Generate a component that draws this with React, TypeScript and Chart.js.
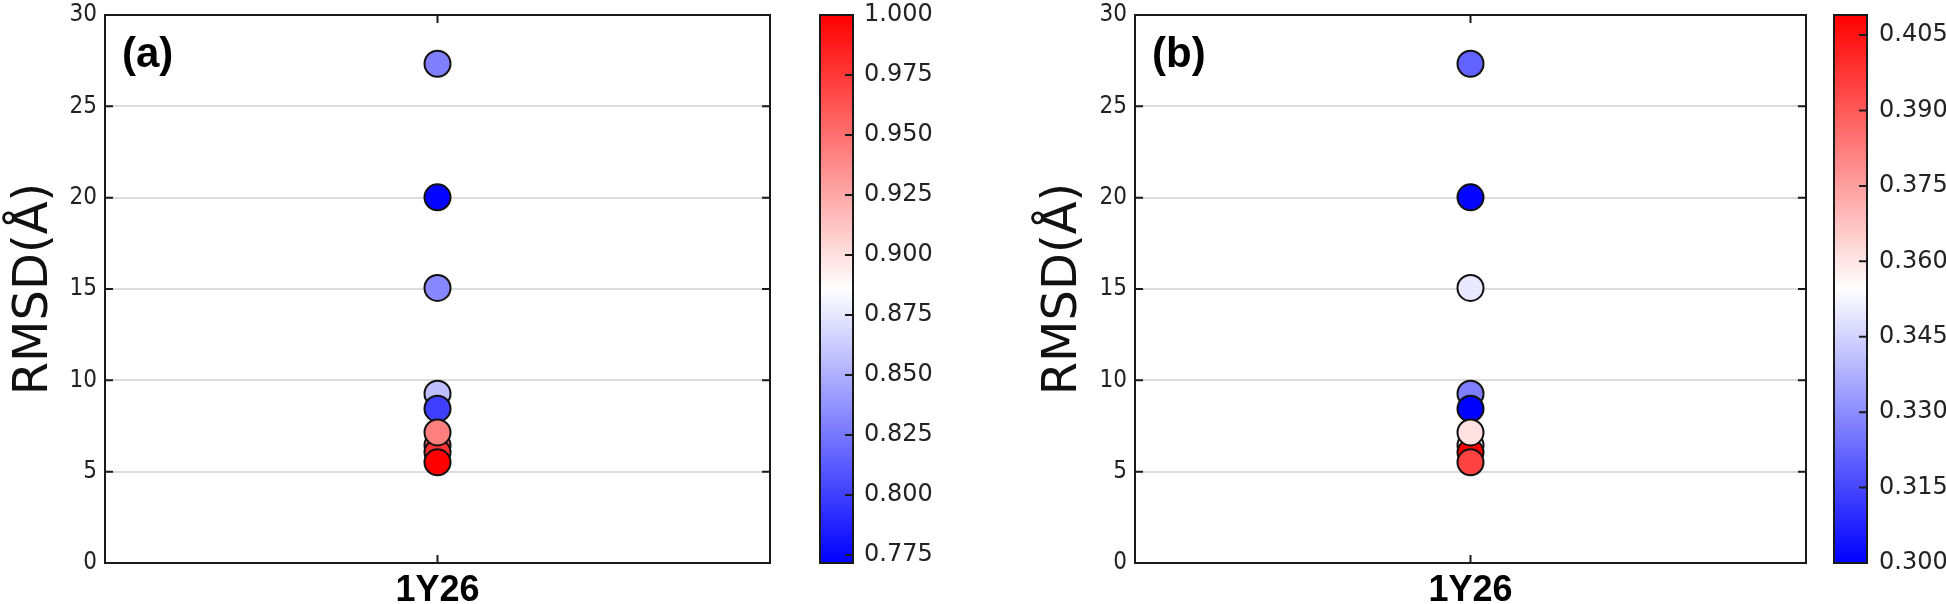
import React, { useEffect, useRef } from 'react';
import { Chart, registerables } from 'chart.js';

Chart.register(...registerables);

// ---------- data ----------
const CATEGORIES = ['1Y26'];
const Y_TICKS = [0, 5, 10, 15, 20, 25, 30];

// panel (a)
const RMSD_A = [27.33, 20.02, 15.06, 9.27, 8.45, 6.44, 6.05, 7.15, 5.51];
const SCORE_A = [0.829, 0.774, 0.832, 0.857, 0.8, 0.955, 0.978, 0.943, 1.0];
const CBAR_A_RANGE = [0.7717, 1.0];
const CBAR_A_TICKS = [0.775, 0.8, 0.825, 0.85, 0.875, 0.9, 0.925, 0.95, 0.975, 1.0];
const CBAR_A_LABELS = ['0.775', '0.800', '0.825', '0.850', '0.875', '0.900', '0.925', '0.950', '0.975', '1.000'];

// panel (b)
const RMSD_B = [27.33, 20.02, 15.06, 9.27, 8.45, 6.44, 6.05, 7.15, 5.51];
const SCORE_B = [0.321, 0.301, 0.3496, 0.327, 0.3, 0.355, 0.409, 0.361, 0.395];
const CBAR_B_RANGE = [0.3, 0.409];
const CBAR_B_TICKS = [0.3, 0.315, 0.33, 0.345, 0.36, 0.375, 0.39, 0.405];
const CBAR_B_LABELS = ['0.300', '0.315', '0.330', '0.345', '0.360', '0.375', '0.390', '0.405'];

// ---------- layout ----------
const CANVAS_H = 604;
const TOP_PAD = 13;
const X_AXIS_H = 41;

type Geo = {
  canvasLeft: number;
  canvasW: number;
  plotLeft: number;
  plotRight: number;
  cbLeft: number;
  cbRight: number;
  labelLeft: number;
  titleX: number;
};

const GEO_A: Geo = {
  canvasLeft: 0,
  canvasW: 973,
  plotLeft: 105,
  plotRight: 770,
  cbLeft: 820,
  cbRight: 853,
  labelLeft: 864,
  titleX: 35,
};

const GEO_B: Geo = {
  canvasLeft: 990,
  canvasW: 956,
  plotLeft: 1135,
  plotRight: 1806,
  cbLeft: 1834,
  cbRight: 1867,
  labelLeft: 1879,
  titleX: 1064,
};

function bwr(t: number): string {
  const u = Math.max(0, Math.min(1, t));
  if (u < 0.5) {
    const v = Math.round(255 * 2 * u);
    return `rgb(${v},${v},255)`;
  }
  const v = Math.round(255 * (2 - 2 * u));
  return `rgb(255,${v},${v})`;
}

type PanelProps = {
  geo: Geo;
  tag: string;
  rmsd: number[];
  score: number[];
  cRange: number[];
  cTicks: number[];
  cLabels: string[];
};

const TITLE_SIZE = 48;
const Y_TICK_FONT = { family: '"DejaVu Sans Condensed", "DejaVu Sans", sans-serif', size: 24, lineHeight: 1 };

function Panel({ geo, tag, rmsd, score, cRange, cTicks, cLabels }: PanelProps) {
  const ref = useRef<HTMLCanvasElement | null>(null);

  useEffect(() => {
    const canvas = ref.current;
    if (!canvas) return;
    const [cmin, cmax] = cRange;
    const colorOf = (v: number) => bwr((v - cmin) / (cmax - cmin));
    const yAxisW = geo.plotLeft - geo.canvasLeft;
    const rightW = geo.canvasLeft + geo.canvasW - geo.plotRight;
    const cbGap = geo.cbLeft - geo.plotRight;
    const cbW = geo.cbRight - geo.cbLeft;
    const labelPad = geo.labelLeft - geo.plotRight;
    const titlePadTop = geo.titleX - geo.canvasLeft - TITLE_SIZE / 2;

    const decor = {
      id: 'decor',
      afterDraw(chart: any) {
        const { ctx, chartArea: a, scales } = chart;
        const xs = scales.x;
        const ys = scales.y;
        const cs = scales.c;
        ctx.save();
        ctx.strokeStyle = '#1a1a1a';
        ctx.lineWidth = 2;
        ctx.beginPath();
        Y_TICKS.forEach((v) => {
          const py = ys.getPixelForValue(v);
          ctx.moveTo(a.left, py);
          ctx.lineTo(a.left + 8, py);
          ctx.moveTo(a.right, py);
          ctx.lineTo(a.right - 8, py);
        });
        CATEGORIES.forEach((_c, i) => {
          const px = xs.getPixelForValue(i);
          ctx.moveTo(px, a.top);
          ctx.lineTo(px, a.top + 8);
          ctx.moveTo(px, a.bottom);
          ctx.lineTo(px, a.bottom - 8);
        });
        ctx.stroke();
        ctx.strokeRect(a.left, a.top, a.right - a.left, a.bottom - a.top);

        // colorbar
        const cx0 = cs.left + cbGap;
        const top = cs.getPixelForValue(cmax);
        const bot = cs.getPixelForValue(cmin);
        const g = ctx.createLinearGradient(0, bot, 0, top);
        g.addColorStop(0, 'rgb(0,0,255)');
        g.addColorStop(0.5, 'rgb(255,255,255)');
        g.addColorStop(1, 'rgb(255,0,0)');
        ctx.fillStyle = g;
        ctx.fillRect(cx0, top, cbW, bot - top);
        ctx.beginPath();
        cTicks.forEach((v) => {
          const py = cs.getPixelForValue(v);
          ctx.moveTo(cx0 + cbW, py);
          ctx.lineTo(cx0 + cbW - 8, py);
        });
        ctx.stroke();
        ctx.strokeRect(cx0, top, cbW, bot - top);

        // panel tag
        ctx.fillStyle = '#000';
        ctx.font = 'bold 42px "Liberation Sans", Arial, sans-serif';
        ctx.textBaseline = 'middle';
        ctx.textAlign = 'left';
        ctx.fillText(tag, a.left + 17, a.top + 40);
        ctx.restore();
      },
    };

    const chart = new Chart(canvas, {
      type: 'scatter',
      data: {
        labels: CATEGORIES,
        datasets: [
          {
            data: rmsd.map((v) => ({ x: CATEGORIES[0], y: v })) as any,
            backgroundColor: score.map(colorOf),
            borderColor: '#111',
            borderWidth: 2,
            pointRadius: 13,
            pointHoverRadius: 13,
          },
        ],
      },
      options: {
        responsive: false,
        animation: false,
        events: [],
        layout: { padding: { top: TOP_PAD, left: 0, right: 0, bottom: 0 } },
        plugins: { legend: { display: false }, tooltip: { enabled: false } },
        scales: {
          x: {
            type: 'category',
            labels: CATEGORIES,
            offset: true,
            grid: { display: false, drawTicks: false },
            border: { display: false },
            ticks: {
              padding: 6,
              color: '#000',
              font: { family: '"Liberation Sans", Arial, sans-serif', size: 36, weight: 'bold' },
            },
            afterFit: (s: any) => {
              s.height = X_AXIS_H;
            },
          },
          y: {
            type: 'linear',
            position: 'left',
            min: 0,
            max: 30,
            afterBuildTicks: (s: any) => {
              s.ticks = Y_TICKS.map((v) => ({ value: v }));
            },
            grid: { color: '#dcdcdc', lineWidth: 2, drawTicks: false },
            border: { display: false },
            ticks: {
              display: true,
              padding: 8,
              color: '#222',
              font: Y_TICK_FONT,
              callback: (v: any) => String(v),
            },
            title: {
              display: true,
              text: 'RMSD(Å)',
              color: '#111',
              padding: { top: titlePadTop, bottom: 0 },
              font: { family: '"DejaVu Sans", sans-serif', size: TITLE_SIZE, lineHeight: 1 },
            },
            afterFit: (s: any) => {
              s.width = yAxisW;
              s.paddingTop = 0;
              s.paddingBottom = 0;
            },
          },
          c: {
            type: 'linear',
            position: 'right',
            min: cmin,
            max: cmax,
            afterBuildTicks: (s: any) => {
              s.ticks = cTicks.map((v) => ({ value: v }));
            },
            grid: { display: false, drawTicks: false, drawOnChartArea: false },
            border: { display: false },
            ticks: {
              padding: labelPad,
              color: '#222',
              font: { family: '"DejaVu Sans", sans-serif', size: 24, lineHeight: 1 },
              callback: (_v: any, i: number) => cLabels[i],
            },
            afterFit: (s: any) => {
              s.width = rightW;
              s.paddingTop = 0;
              s.paddingBottom = 0;
            },
          },
        },
      },
      plugins: [decor],
    } as any);

    return () => chart.destroy();
  }, [geo, tag, rmsd, score, cRange, cTicks, cLabels]);

  return (
    <canvas
      ref={ref}
      width={geo.canvasW}
      height={CANVAS_H}
      style={{ position: 'absolute', left: geo.canvasLeft, top: 0, width: geo.canvasW, height: CANVAS_H }}
    />
  );
}

export default function App() {
  return (
    <div
      style={{
        position: 'absolute',
        left: 0,
        top: 0,
        width: 1946,
        height: 604,
        background: '#fff',
        overflow: 'hidden',
      }}
    >
      <Panel
        geo={GEO_A}
        tag="(a)"
        rmsd={RMSD_A}
        score={SCORE_A}
        cRange={CBAR_A_RANGE}
        cTicks={CBAR_A_TICKS}
        cLabels={CBAR_A_LABELS}
      />
      <Panel
        geo={GEO_B}
        tag="(b)"
        rmsd={RMSD_B}
        score={SCORE_B}
        cRange={CBAR_B_RANGE}
        cTicks={CBAR_B_TICKS}
        cLabels={CBAR_B_LABELS}
      />
    </div>
  );
}
